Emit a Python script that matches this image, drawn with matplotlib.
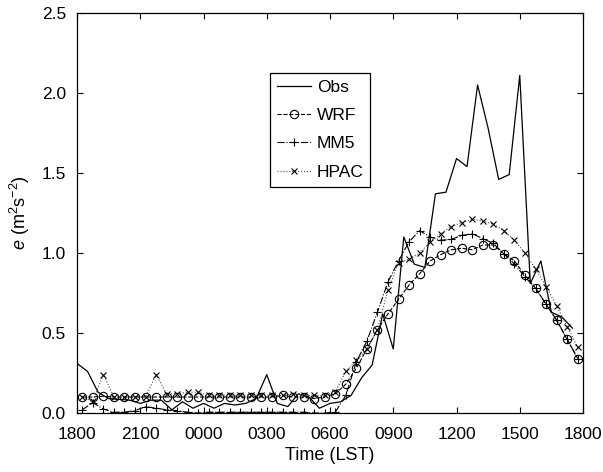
import numpy as np
import matplotlib
matplotlib.use('Agg')
import matplotlib.pyplot as plt

plt.rcParams['font.family'] = ['Liberation Sans', 'DejaVu Sans']
plt.rcParams['mathtext.fontset'] = 'custom'
plt.rcParams['mathtext.rm'] = 'Liberation Sans'
plt.rcParams['mathtext.it'] = 'Liberation Sans:italic'

# --- data: hours after 1800 LST ---------------------------------------
obs_hours = np.arange(0, 24, 0.5)
obs = [0.31, 0.26, 0.13, 0.09, 0.085, 0.08, 0.06, 0.08, 0.08, 0.02,
       0.07, 0.03, 0.06, 0.03, 0.06, 0.05, 0.06, 0.09, 0.24, 0.06,
       0.04, 0.12, 0.10, 0.03, 0.06, 0.07, 0.11, 0.22, 0.30, 0.62,
       0.40, 1.10, 0.93, 0.91, 1.37, 1.38, 1.59, 1.54, 2.05, 1.78,
       1.46, 1.49, 2.11, 0.81, 0.95, 0.63, 0.60, 0.53]

mod_hours = np.arange(0.25, 24, 0.5)
wrf = [0.10, 0.10, 0.105, 0.10, 0.10, 0.10, 0.10, 0.10, 0.10, 0.10,
       0.10, 0.10, 0.10, 0.10, 0.10, 0.10, 0.10, 0.10, 0.10, 0.11,
       0.10, 0.10, 0.09, 0.10, 0.12, 0.18, 0.28, 0.40, 0.52, 0.62,
       0.71, 0.80, 0.87, 0.95, 0.99, 1.02, 1.03, 1.02, 1.05, 1.05,
       0.995, 0.95, 0.86, 0.78, 0.68, 0.58, 0.46, 0.34]
mm5 = [0.02, 0.065, 0.025, 0.005, 0.005, 0.015, 0.04, 0.03, 0.02, 0.015,
       0.005, 0.0, 0.005, 0.005, 0.005, 0.005, 0.005, 0.005, 0.005, 0.005,
       0.005, 0.005, 0.0, 0.0, 0.005, 0.11, 0.32, 0.45, 0.63, 0.82,
       0.95, 1.07, 1.14, 1.10, 1.08, 1.085, 1.11, 1.12, 1.09, 1.06,
       0.995, 0.93, 0.85, 0.78, 0.68, 0.58, 0.46, 0.34]
hpac = [0.10, 0.075, 0.24, 0.10, 0.10, 0.10, 0.10, 0.24, 0.12, 0.12,
        0.13, 0.13, 0.11, 0.11, 0.11, 0.11, 0.11, 0.11, 0.11, 0.11,
        0.12, 0.11, 0.11, 0.11, 0.13, 0.26, 0.33, 0.40, 0.52, 0.77,
        0.94, 0.96, 1.00, 1.07, 1.12, 1.165, 1.19, 1.21, 1.20, 1.18,
        1.14, 1.08, 1.00, 0.90, 0.79, 0.67, 0.54, 0.41]

xticks = np.arange(0, 25, 3)
xticklabels = ['1800', '2100', '0000', '0300', '0600', '0900', '1200', '1500', '1800']
yticks = [0.0, 0.5, 1.0, 1.5, 2.0, 2.5]

fig = plt.figure(figsize=(6.03, 4.72), dpi=100)
ax = fig.add_axes([77/603, 59/472, 506/603, 400/472])

ax.plot(obs_hours, obs, '-', color='k', lw=0.9, label='Obs')
ax.plot(mod_hours, wrf, '--', color='k', lw=0.8, marker='o', ms=6,
        mfc='none', mew=0.8, label='WRF')
ax.plot(mod_hours, mm5, '-.', color='k', lw=0.8, marker='+', ms=6,
        mew=0.8, label='MM5')
ax.plot(mod_hours, hpac, ':', color='0.3', lw=0.8, marker='x', ms=4,
        mec='k', mew=0.8, label='HPAC')

ax.set_xlim(0, 24)
ax.set_ylim(0, 2.5)
ax.set_xticks(xticks)
ax.set_xticklabels(xticklabels)
ax.set_yticks(yticks)
ax.set_yticklabels(['%.1f' % v for v in yticks])
ax.tick_params(direction='in', top=True, right=True, labelsize=12.5, length=4)
ax.tick_params(axis='x', pad=10)
ax.tick_params(axis='y', pad=8)
for s in ax.spines.values():
    s.set_linewidth(0.9)

ax.set_xlabel('Time (LST)', fontsize=13, labelpad=4)
ax.set_ylabel(r'$e$ (m$^2$s$^{-2}$)', fontsize=13, labelpad=7)

leg = ax.legend(loc='upper left', bbox_to_anchor=(0.381, 0.85), fontsize=12.5,
                fancybox=False, edgecolor='k', framealpha=1, handlelength=2.0,
                labelspacing=0.75, borderpad=0.4, handletextpad=0.3,
                borderaxespad=0)
leg.get_frame().set_linewidth(0.9)

plt.savefig('out.png', dpi=100)
